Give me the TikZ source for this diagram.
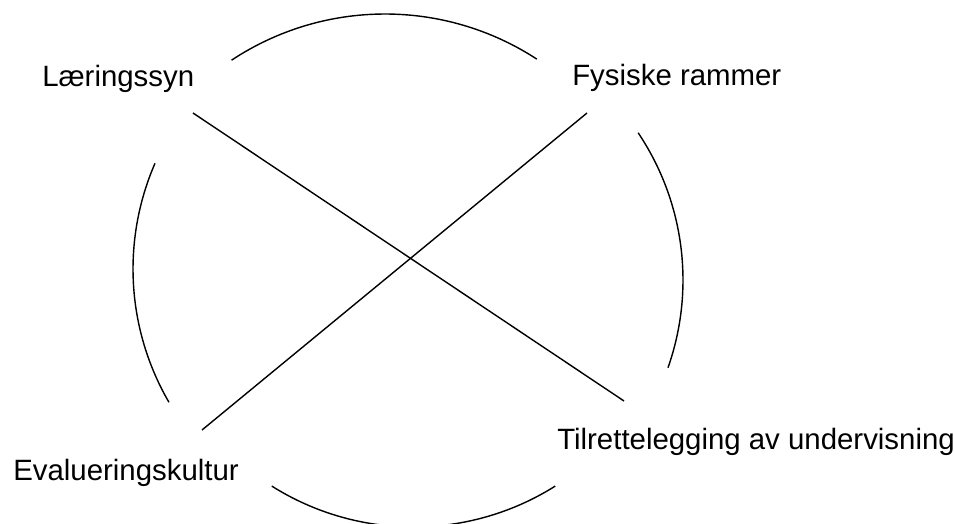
\documentclass[tikz,border=0pt]{standalone}
\usepackage{fontspec}
\setmainfont{Liberation Sans}
\usetikzlibrary{positioning}
\tikzstyle{aspect} = [anchor=base west, inner sep=0pt, font=\fontsize{20.9}{24}\selectfont]
\tikzstyle{link} = [black, line width=1pt]
\tikzstyle{rim} = [black, line width=1pt]
\begin{document}
\begin{tikzpicture}[x=0.025cm, y=-0.025cm]
    \useasboundingbox (0,0) rectangle (954,524);

    % aspects
    \node [aspect] (laer) at (42,87) {Læringssyn};
    \node [aspect] (fys) at (572,86) {Fysiske rammer};
    \node [aspect] (eval) at (13,480) {Evalueringskultur};
    \node [aspect] (tilr) at (557,449) {Tilrettelegging av undervisning};

    % ends of the crossing lines
    \coordinate (laer-out) at (193,113);
    \coordinate (tilr-in) at (624,401);
    \coordinate (fys-out) at (587,113);
    \coordinate (eval-in) at (202,430);

    % circle pieces
    \foreach \cx/\cy/\r/\a/\b in {385/292/278/-123.5/-56.9,
                                  398/269/265/149.8/203.5,
                                  419/280/264/-33.9/19.4,
                                  413.5/261/266/57.8/122.2}
        \draw[rim] ([shift={(\a:\r)}]\cx,\cy) arc[start angle=\a, end angle=\b, radius=\r];

    % Paths
    \draw[link] (laer-out) -- (tilr-in);
    \draw[link] (fys-out) -- (eval-in);
\end{tikzpicture}
\end{document}
